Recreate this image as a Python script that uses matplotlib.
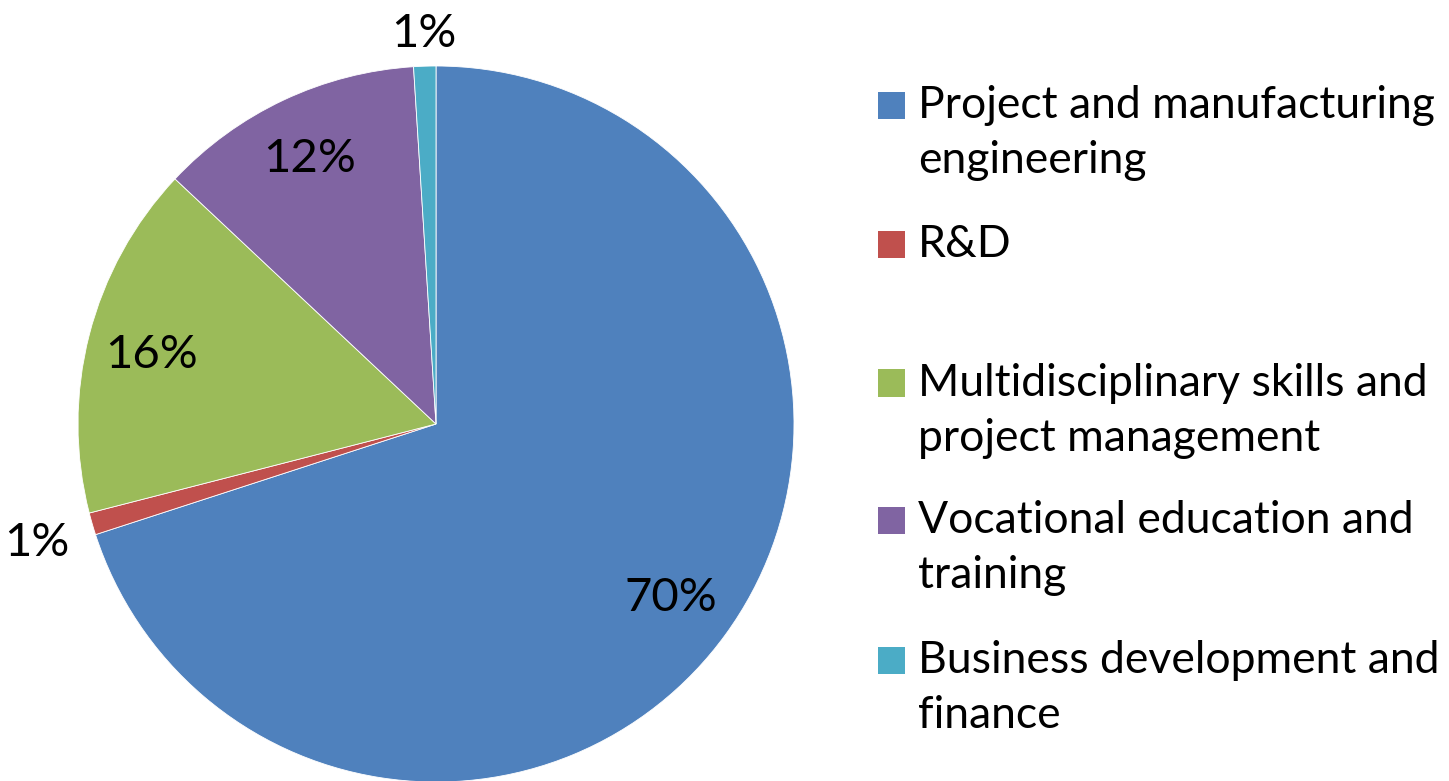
import matplotlib.pyplot as plt
from matplotlib.patches import Rectangle
import numpy as np

# data
categories = ['Project and manufacturing\nengineering', 'R&D',
              'Multidisciplinary skills and\nproject management',
              'Vocational education and\ntraining',
              'Business development and\nfinance']
values = [70, 1, 16, 12, 1]
pct_labels = ['70%', '1%', '16%', '12%', '1%']
colors = ['#4F81BD', '#C0504D', '#9BBB59', '#8064A2', '#4BACC6']

# label distance from centre (fraction of radius)
label_dist = [0.81, 1.16, 0.82, 0.83, 1.10]
# legend entry centres (y in figure pixels from top)
legend_y = [105, 244, 383, 520, 660]

plt.rcParams['font.family'] = ['Lato', 'DejaVu Sans']

W, H = 1449, 781
fig = plt.figure(figsize=(W / 100, H / 100), dpi=100)
cx, cy, r = 436, 424, 358
ax = fig.add_axes([(cx - r) / W, (H - cy - r) / H, 2 * r / W, 2 * r / H])

wedges, _ = ax.pie(values, colors=colors, startangle=90, counterclock=False,
                   radius=1, wedgeprops=dict(edgecolor='white', linewidth=0.6))
ax.set_xlim(-1, 1)
ax.set_ylim(-1, 1)
ax.set_aspect('equal')
ax.axis('off')

# percentage labels
for w, lab, d in zip(wedges, pct_labels, label_dist):
    mid = np.deg2rad((w.theta1 + w.theta2) / 2)
    ax.text(d * np.cos(mid), d * np.sin(mid) - 0.01, lab, ha='center', va='center',
            fontsize=34, color='black', clip_on=False)

# legend
sq = 27
for name, col, y in zip(categories, colors, legend_y):
    fig.patches.append(Rectangle((878 / W, (H - y - sq / 2) / H), sq / W, sq / H,
                                 transform=fig.transFigure, facecolor=col,
                                 edgecolor='none'))
    fig.text(918 / W, (H - y + 20) / H, name, ha='left', va='top',
             fontsize=32, linespacing=1.42)

fig.savefig('out.png', dpi=100)
